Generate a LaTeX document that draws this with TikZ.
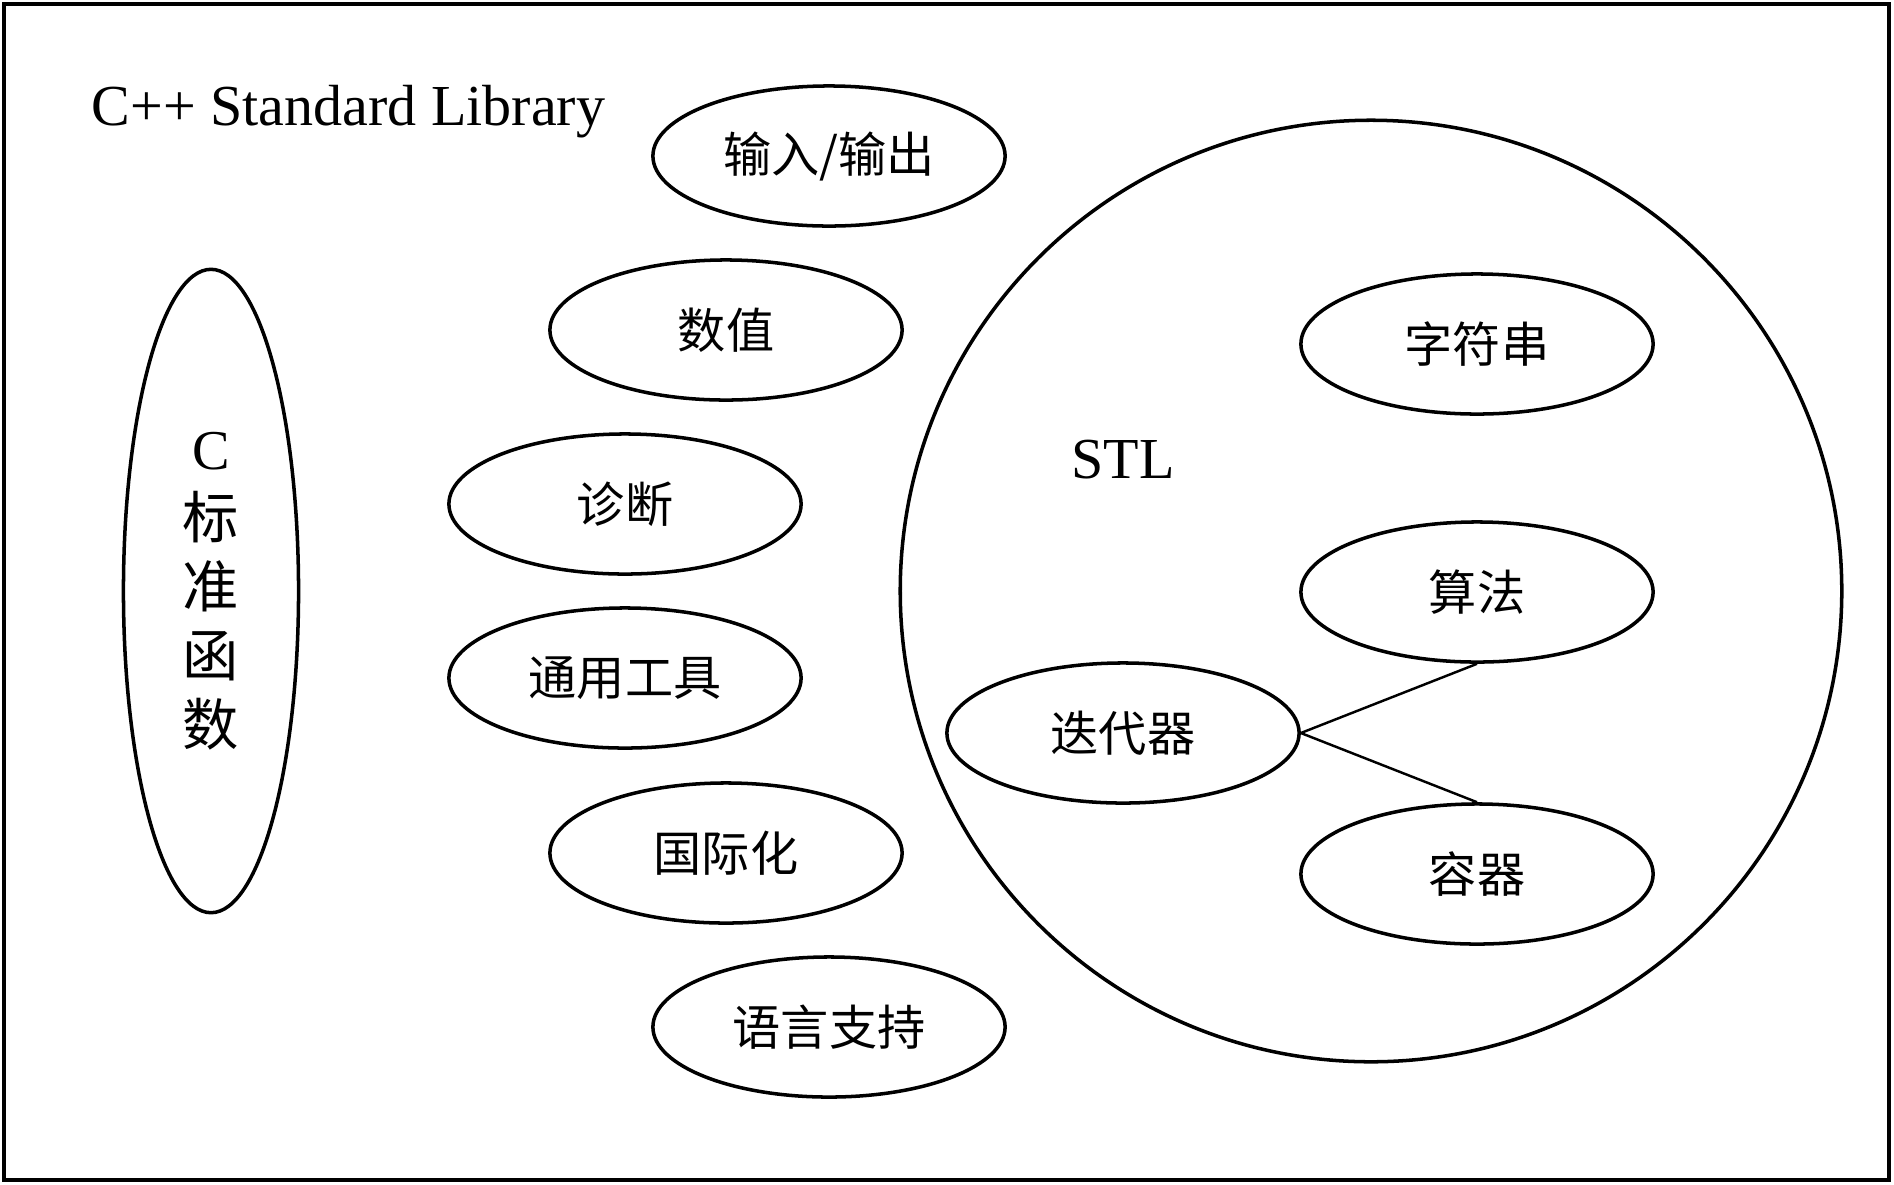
\documentclass[tikz,border=0pt]{standalone}
\usepackage{fontspec}
\setmainfont{Liberation Serif}
\newfontfamily\cjk{Noto Sans CJK SC}
\usetikzlibrary{shapes.geometric}

\begin{document}
\begin{tikzpicture}[x=0.01cm, y=-0.01cm,
  oval/.style={ellipse, draw, line width=1pt, minimum width=3.52cm,
    minimum height=1.40cm, inner sep=0pt, font=\cjk\fontsize{13.7}{16}\selectfont},
  link/.style={line width=0.7pt},
  heading/.style={inner sep=0pt, font=\fontsize{16.5}{20}\selectfont}]
  \useasboundingbox (0,0) rectangle (1894,1184);
  % --- frame ---
  \draw[line width=1.1pt] (4,4) rectangle (1889,1180);
  \node[heading, anchor=base west] (title) at (91,125) {C++ Standard Library};
  % --- C functions ---
  \node[ellipse, draw, line width=1pt, minimum width=1.75cm, minimum height=6.43cm,
    inner sep=0pt, align=center, font=\cjk\fontsize{16}{19.6}\selectfont]
    (cstd) at (211,591) {{\rmfamily C}\\标\\准\\函\\数};
  % --- modules ---
  \node[oval] (io)   at (829,156)  {输入/输出};
  \node[oval] (num)  at (726,330)  {数值};
  \node[oval] (diag) at (625,504)  {诊断};
  \node[oval] (util) at (625,678)  {通用工具};
  \node[oval] (intl) at (726,853)  {国际化};
  \node[oval] (lang) at (829,1027) {语言支持};
  % --- STL ---
  \node[circle, draw, line width=1pt, minimum size=9.41cm] (stl) at (1371,591) {};
  \node[heading, anchor=base] (stlname) at (1123,478) {STL};
  \node[oval] (str)  at (1477,344) {字符串};
  \node[oval] (algo) at (1477,592) {算法};
  \node[oval] (iter) at (1123,733) {迭代器};
  \node[oval] (cont) at (1477,874) {容器};
  \draw[link] (iter.east) -- (algo.south);
  \draw[link] (iter.east) -- (cont.north);
\end{tikzpicture}
\end{document}
